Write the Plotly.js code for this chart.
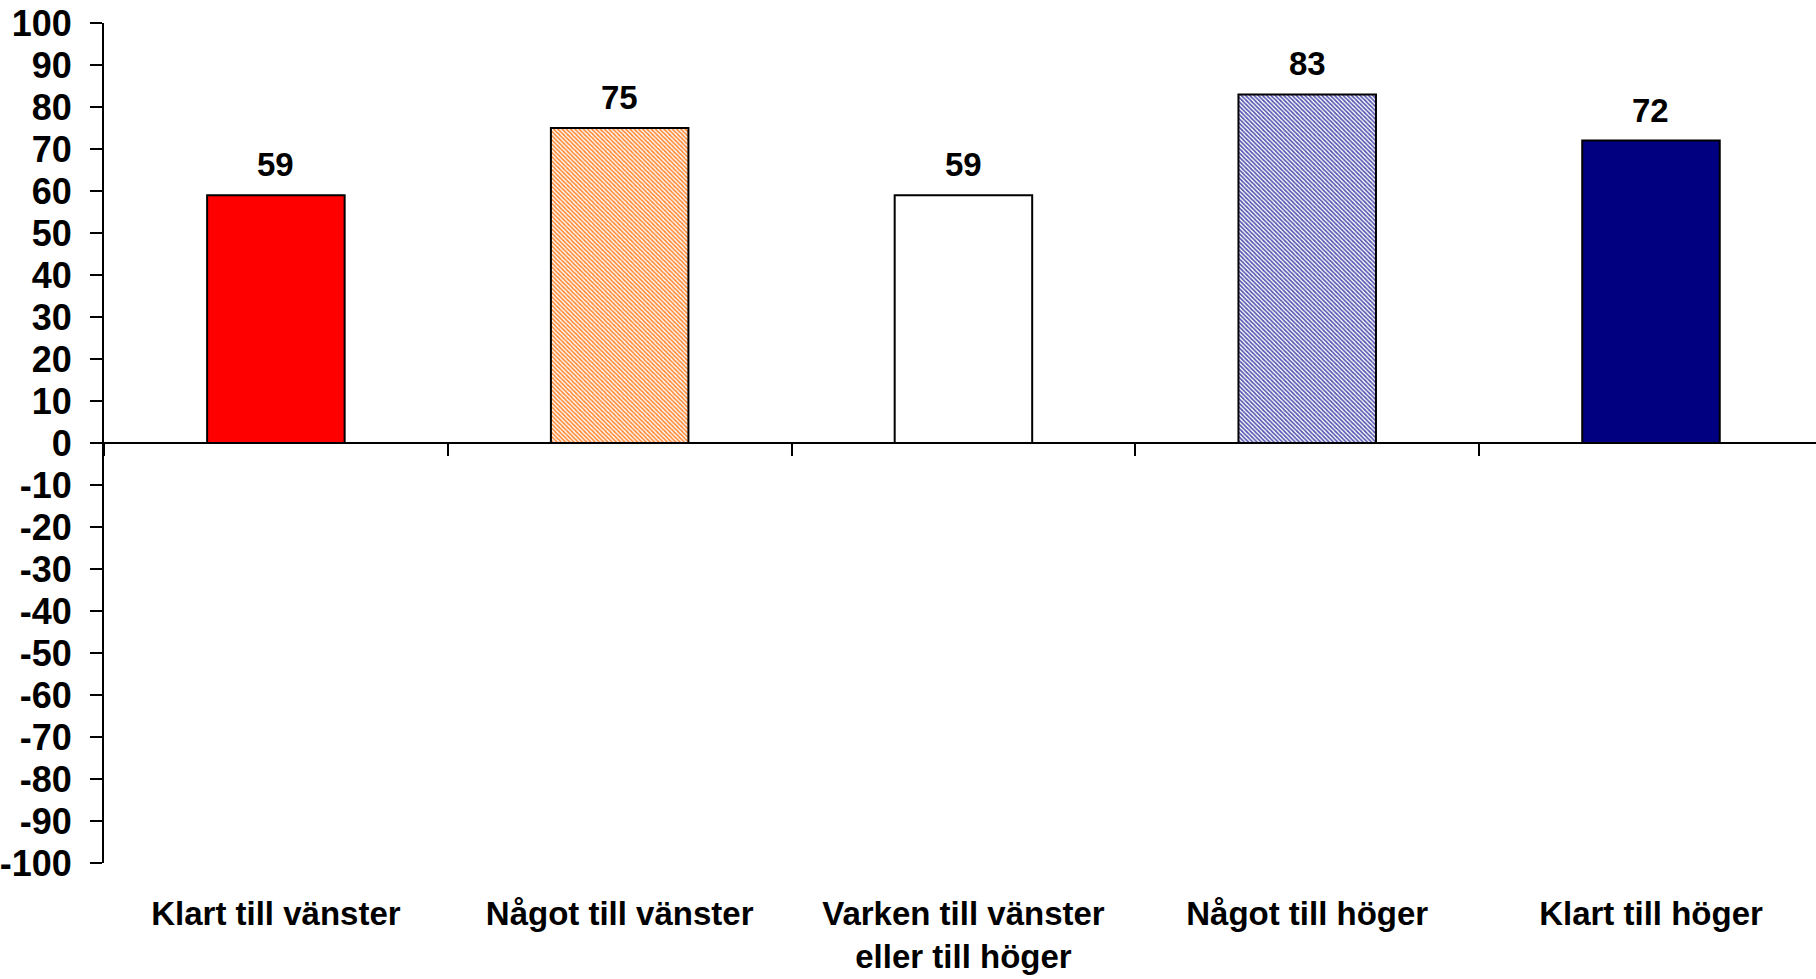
<!DOCTYPE html>
<html>
<head>
<meta charset="utf-8">
<script src="https://cdn.plot.ly/plotly-3.0.1.min.js"></script>
<style>
html,body{margin:0;padding:0;background:#fff;}
#chart{width:1816px;height:979px;}
</style>
</head>
<body>
<div id="chart"></div>
<script>
const categories = ["Klart till vänster", "Något till vänster", "Varken till vänster<br>eller till höger", "Något till höger", "Klart till höger"];
const values = [59, 75, 59, 83, 72];
const yTicks = [100, 90, 80, 70, 60, 50, 40, 30, 20, 10, 0, -10, -20, -30, -40, -50, -60, -70, -80, -90, -100];

const fillColors = ["#FF0000", "#FFFFFF", "#FFFFFF", "#FFFFFF", "#000080"];
const patternShapes = ["", "\\", "", "\\", ""];
const patternColors = ["#FF0000", "#FF8833", "#FFFFFF", "#5555B0", "#000080"];

const FONT = {family: "Liberation Sans, Arial, sans-serif", size: 33, color: "#000", weight: 700};
const YFONT = {family: "Liberation Sans, Arial, sans-serif", size: 36, color: "#000", weight: 700};
const xr = [-0.5, 4.48];

const barTraces = categories.map((c, i) => {
  const m = {
    color: fillColors[i],
    line: {color: "#000", width: 2}
  };
  if (patternShapes[i]) {
    m.pattern = {shape: patternShapes[i], fgcolor: patternColors[i], bgcolor: "#FFFFFF", fgopacity: 1, size: 3, solidity: 0.55, fillmode: "replace"};
  }
  return {
    type: "bar",
    x: [c],
    y: [values[i]],
    width: 0.4,
    xaxis: "x",
    yaxis: "y",
    marker: m,
    hoverinfo: "skip",
    showlegend: false
  };
});

const labelTrace = {
  type: "scatter",
  mode: "markers",
  x: categories,
  y: values,
  xaxis: "x2",
  yaxis: "y",
  marker: {opacity: 0, size: 1},
  hoverinfo: "skip",
  showlegend: false
};

const annotations = categories.map((c, i) => ({
  x: c, y: values[i], xref: "x", yref: "y",
  text: String(values[i]),
  showarrow: false,
  yanchor: "bottom",
  yshift: 10,
  font: FONT
}));

const layout = {
  width: 1816,
  height: 979,
  margin: {l: 104, r: 0, t: 23, b: 116},
  paper_bgcolor: "#fff",
  plot_bgcolor: "#fff",
  showlegend: false,
  barmode: "overlay",
  font: FONT,
  xaxis: {
    type: "category",
    categoryorder: "array",
    categoryarray: categories,
    range: xr,
    anchor: "free",
    position: 0.5,
    showline: true,
    linecolor: "#000",
    linewidth: 2,
    ticks: "outside",
    tickson: "boundaries",
    ticklen: 12,
    tickwidth: 2,
    tickcolor: "#000",
    showticklabels: false,
    showgrid: false,
    zeroline: false,
    fixedrange: true
  },
  xaxis2: {
    type: "category",
    categoryorder: "array",
    categoryarray: categories,
    range: xr,
    overlaying: "x",
    anchor: "y",
    side: "bottom",
    showline: false,
    ticks: "",
    showgrid: false,
    zeroline: false,
    tickfont: FONT,
    ticklabelstandoff: 28,
    fixedrange: true
  },
  yaxis: {
    range: [-100, 100],
    tickvals: yTicks,
    ticktext: yTicks.map(String),
    showline: true,
    linecolor: "#000",
    linewidth: 2,
    ticks: "outside",
    ticklen: 12,
    tickwidth: 2,
    tickcolor: "#000",
    showgrid: false,
    zeroline: false,
    tickfont: YFONT,
    ticklabelstandoff: 11,
    fixedrange: true
  },
  annotations: annotations
};

Plotly.newPlot("chart", barTraces.concat([labelTrace]), layout, {displayModeBar: false, staticPlot: true});
</script>
</body>
</html>
